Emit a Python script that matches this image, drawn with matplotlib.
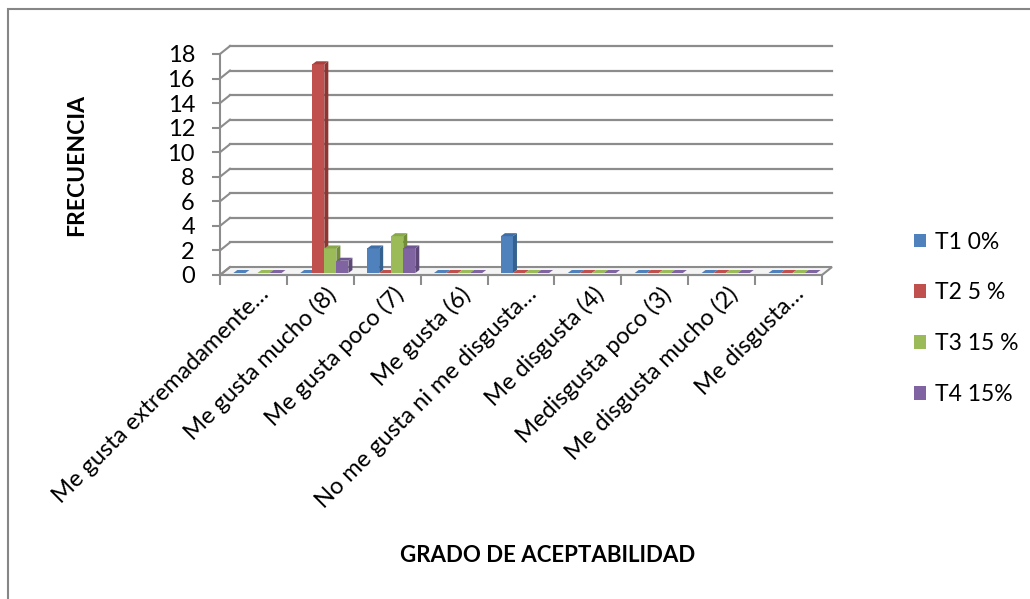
import numpy as np
import matplotlib
matplotlib.use("Agg")
import matplotlib.pyplot as plt
import matplotlib.transforms as mtransforms
from matplotlib.patches import Polygon, Rectangle, Patch
from matplotlib.lines import Line2D

plt.rcParams['font.family'] = ['Lato', 'DejaVu Sans']

categories = ["Me gusta extremadamente…", "Me gusta mucho (8)", "Me gusta poco (7)",
              "Me gusta (6)", "No me gusta ni me disgusta…", "Me disgusta (4)",
              "Medisgusta poco (3)", "Me disgusta mucho (2)", "Me disgusta…"]
series_names = ["T1 0%", "T2 5 %", "T3 15 %", "T4 15%"]
t1 = [0, 0, 2, 0, 3, 0, 0, 0, 0]
t2 = [np.nan, 17, 0, 0, 0, 0, 0, 0, 0]
t3 = [0, 2, 3, 0, 0, 0, 0, 0, 0]
t4 = [0, 1, 2, 0, 0, 0, 0, 0, 0]
series = [t1, t2, t3, t4]
yticks = [0, 2, 4, 6, 8, 10, 12, 14, 16, 18]

front = ["#4F81BD", "#C0504D", "#9BBB59", "#8064A2"]
side = ["#35618F", "#8E3431", "#718D3A", "#5C4777"]
top = ["#3F6EA6", "#A8403D", "#87A74A", "#6E5690"]

W, H = 1030, 599
fig = plt.figure(figsize=(W / 100, H / 100), dpi=100)
fig.patch.set_facecolor("white")

# axes in pixel coordinates: front axis
x_l, x_r = 220, 822
y0_px, y18_px = 275, 54
ax = fig.add_axes([x_l / W, 1 - y0_px / H, (x_r - x_l) / W, (y0_px - y18_px) / H])
n = len(categories)
ax.set_xlim(-0.5, n - 0.5)
ax.set_ylim(0, 18)
ax.set_facecolor("none")
for s in ax.spines.values():
    s.set_visible(False)

sx = (x_r - x_l) / n          # px per x unit
sy = (y0_px - y18_px) / 18    # px per y unit

def ox(px):
    return px / sx

def oy(px):
    return px / sy

grid_c = "#8C8C8C"
back_dx, back_dy = ox(10), oy(8)
xmin, xmax = -0.5, n - 0.5

# floor
floor = Polygon([(xmin, 0), (xmax, 0), (xmax + back_dx, back_dy), (xmin + back_dx, back_dy)],
                closed=True, facecolor="#F4F4F4", edgecolor=grid_c, lw=1.5, clip_on=False, zorder=1)
ax.add_patch(floor)

# back gridlines + left side diagonals
for v in yticks[1:]:
    ax.add_line(Line2D([xmin + back_dx, xmax + back_dx], [v + back_dy, v + back_dy],
                       color=grid_c, lw=1.6, clip_on=False, zorder=1))
for v in yticks:
    ax.add_line(Line2D([xmin, xmin + back_dx], [v, v + back_dy],
                       color=grid_c, lw=1.5, clip_on=False, zorder=1))
# front vertical axis
ax.add_line(Line2D([xmin, xmin], [0, 18], color=grid_c, lw=1.5, clip_on=False, zorder=2))

# bars
w = 0.18
fdx, fdy = ox(4), oy(2)
ddx, ddy = ox(4), oy(3)
z = 3
for j in range(n):
    for i, s in enumerate(series):
        v = s[j]
        if np.isnan(v):
            continue
        x0 = j - 2 * w + i * w + fdx
        y0 = fdy
        if v > 0:
            ax.add_patch(Rectangle((x0, y0), w, v, facecolor=front[i], edgecolor="none",
                                   clip_on=False, zorder=z))
            ax.add_patch(Polygon([(x0 + w, y0), (x0 + w + ddx, y0 + ddy),
                                  (x0 + w + ddx, y0 + v + ddy), (x0 + w, y0 + v)],
                                 closed=True, facecolor=side[i], edgecolor="none",
                                 clip_on=False, zorder=z))
        ax.add_patch(Polygon([(x0, y0 + v), (x0 + w, y0 + v), (x0 + w + ddx, y0 + v + ddy),
                              (x0 + ddx, y0 + v + ddy)],
                             closed=True, facecolor=top[i] if v > 0 else front[i],
                             edgecolor="none", clip_on=False, zorder=z))
        z += 0.01

# ticks
ax.set_yticks(yticks)
ax.set_yticklabels([str(t) for t in yticks])
ax.tick_params(axis="y", length=6, width=1.5, color=grid_c, pad=12, labelsize=17)
ax.set_xticks(range(n))
ax.set_xticklabels(categories, rotation=45, ha="right", va="top", rotation_mode="anchor",
                   fontsize=17)
ax.tick_params(axis="x", which="major", length=0, pad=6)
shift = mtransforms.ScaledTranslation(5 / 100, 0, fig.dpi_scale_trans)
for lab in ax.get_xticklabels():
    lab.set_transform(lab.get_transform() + shift)
ax.set_xticks(np.arange(-0.5, n, 1.0), minor=True)
ax.tick_params(axis="x", which="minor", length=7, width=1.5, color=grid_c)
ax.add_line(Line2D([xmin, xmax], [0, 0], color=grid_c, lw=1.5, clip_on=False, zorder=2))

# axis titles
fig.text(77 / W, 1 - 165 / H, "FRECUENCIA", rotation=90, ha="center", va="center",
         fontsize=16.5, fontweight="bold")
fig.text(548 / W, 1 - 555 / H, "GRADO DE ACEPTABILIDAD", ha="center", va="center",
         fontsize=16, fontweight="bold")

# legend
handles = [Patch(facecolor=c, edgecolor="none") for c in front]
fig.legend(handles, series_names, loc="upper left", bbox_to_anchor=(893 / W, 1 - 211 / H),
           frameon=False, fontsize=16.5, handlelength=0.55, handleheight=0.55,
           handletextpad=0.4, labelspacing=1.3)

# outer frame
fig.patches.append(Rectangle((8 / W, -0.05), 1.1, 1 - 9 / H + 0.05, transform=fig.transFigure,
                             facecolor="none", edgecolor="#868686", lw=1.5))

fig.savefig("out.png", dpi=100)
